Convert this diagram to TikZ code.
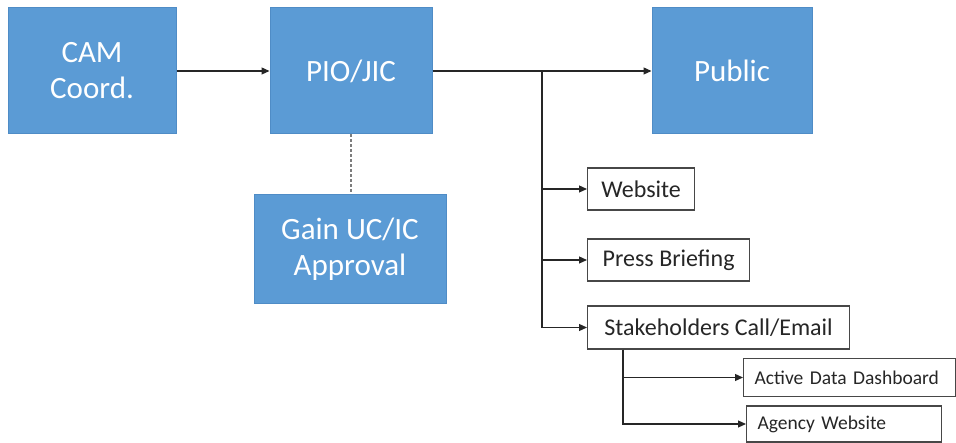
\documentclass[tikz,border=0pt]{standalone}
\usepackage{fontspec}
\setmainfont{Carlito}
\usetikzlibrary{arrows.meta}
\definecolor{boxblue}{HTML}{5B9BD5}
\definecolor{boxedge}{HTML}{4F8CC6}
\definecolor{lineclr}{HTML}{262626}
\tikzset{
	bigbox/.style={fill=boxblue, draw=boxedge, line width=1pt, text=white, align=center, inner sep=0pt, font=\fontsize{31}{36}\selectfont},
	smallbox/.style={draw=lineclr!85, line width=1.2pt, fill=white, text=lineclr, anchor=west, inner sep=0pt, font=\fontsize{24}{28}\selectfont},
	subbox/.style={smallbox, align=left, inner xsep=11pt, font=\fontsize{19.5}{23}\selectfont},
	arr/.style={draw=lineclr, line width=1.2pt, -{Triangle[length=8pt,width=7pt]}}
}
\begin{document}
\begin{tikzpicture}[x=1pt, y=-1pt]
			\useasboundingbox (0,0) rectangle (956,443);
			%top row
			\node (cam) at (92,71) [bigbox, minimum width=168, minimum height=126]{CAM\\Coord.};
			\node (pio) at (351,71) [bigbox, minimum width=162, minimum height=126]{PIO/JIC};
			\node (public) at (732,71) [bigbox, minimum width=160, minimum height=126]{Public};
			\node (gain) at (350,249.5) [bigbox, minimum width=192, minimum height=109]{Gain UC/IC\\Approval};
			
			%channels
			\node (web) at (587,189) [smallbox, minimum width=107, minimum height=42]{Website};
			\node (press) at (587,260) [smallbox, minimum width=162, minimum height=42]{Press Briefing};
			\node (stake) at (587,327.5) [smallbox, minimum width=262, minimum height=43]{Stakeholders Call/Email};
			\node (dash) at (743,377.5) [subbox, text width=190, minimum height=38]{Active Data Dashboard};
			\node (agency) at (746,424) [subbox, text width=173, minimum height=36]{Agency Website};
			
			\draw[arr] (cam) -- (pio);
			\draw[arr] (pio) -- (public);
			\draw[lineclr!60, line width=1.2pt, dash pattern=on 3pt off 2pt] (pio.south) -- (pio.south |- gain.north);
			
			\coordinate (split) at (542,71);
			\foreach \n in {web, press, stake}{
				\draw[arr] (split) |- (\n);
			}
			\coordinate (subsplit) at ([xshift=36pt]stake.south west);
			\foreach \n in {dash, agency}{
				\draw[arr] (subsplit) |- (\n);
			}
		\end{tikzpicture}
\end{document}
